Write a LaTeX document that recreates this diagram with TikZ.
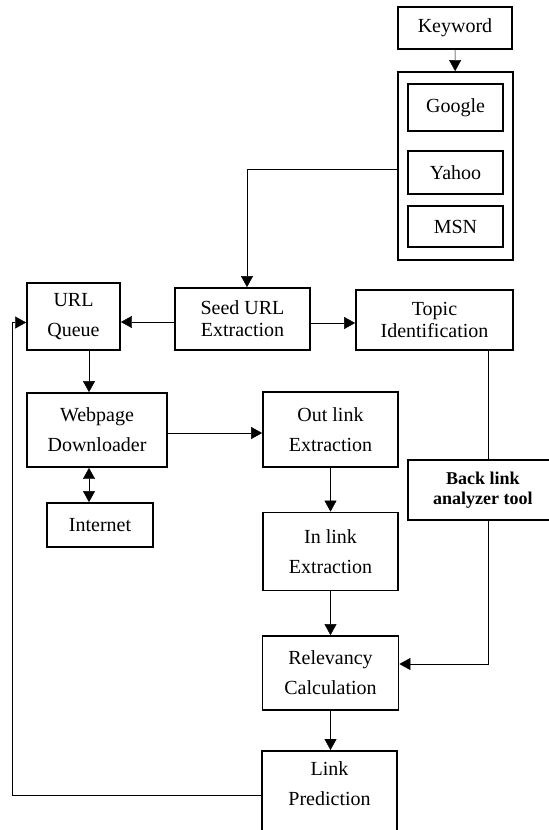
\documentclass[tikz,border=0pt]{standalone}
\usepackage{fontspec}
\setmainfont{Liberation Serif}
\usepackage{tikz}
\usetikzlibrary{arrows.meta}
\pgfdeclarelayer{bg}
\pgfsetlayers{bg,main}
\tikzset{
    every node/.style={rectangle, draw, line width=1.8bp, inner sep=0mm, align=center, font=\fontsize{20bp}{30bp}\selectfont}
}
\tikzset{tight/.style={font=\fontsize{20bp}{22bp}\selectfont}}
\tikzset{arr/.style={-{Triangle[length=11bp, width=12bp]}}}

\begin{document}
\begin{tikzpicture}[x=1bp, y=-1bp, line width=1.8bp]
        \useasboundingbox (0, 0) rectangle (549, 830);
        \node (kw) [minimum width=114bp, minimum height=42bp] at (455, 28) {Keyword};
        \node (se) [minimum width=115bp, minimum height=188bp] at (455.5, 166) {};
        \node (ggl) [minimum width=95bp, minimum height=47bp] at (455.5, 107.5) {Google};
        \node (yah) [minimum width=95bp, minimum height=43bp] at (455.5, 172.5) {Yahoo};
        \node (msn) [minimum width=95bp, minimum height=41bp] at (455.5, 226.5) {MSN};
        \node (urlq) [minimum width=93bp, minimum height=67bp] at (73.5, 316.5) {URL\\Queue};
        \node (seed) [tight, minimum width=135bp, minimum height=62bp] at (242.5, 319) {Seed URL\\Extraction};
        \node (topic) [tight, minimum width=157bp, minimum height=60bp] at (434.5, 320) {Topic\\Identification};
        \node (web) [minimum width=140bp, minimum height=74bp] at (97, 430) {Webpage\\Downloader};
        \node (out) [minimum width=135bp, minimum height=75bp] at (330.5, 429.5) {Out link\\Extraction};
        \node (inet) [minimum width=106bp, minimum height=44bp] at (100, 525) {Internet};
        \node (back) [font=\fontsize{18bp}{20bp}\selectfont\bfseries, minimum width=150bp, minimum height=60bp, anchor=west] at (407, 490) {Back link\\analyzer tool};
        \node (inl) [minimum width=135bp, minimum height=78bp] at (330.5, 551.5) {In link\\Extraction};
        \node (rel) [minimum width=136bp, minimum height=74bp] at (330.5, 673) {Relevancy\\Calculation};
        \node (pred) [minimum width=135bp, minimum height=105bp, anchor=north] at (329.5, 750) {Link\\Prediction\\\strut};
        \coordinate (fb) at (12, 795);
        \begin{pgfonlayer}{bg}
                \draw (kw) edge [arr] (se);
                \draw [arr] ([yshift=-3bp]se.west) -| ([xshift=4.5bp]seed.north);
                \draw [arr] ([yshift=-3bp]seed.west) -- ([yshift=-3bp]seed.west -| urlq.east);
                \draw [arr] ([yshift=-4bp]seed.east) -- ([yshift=-4bp]seed.east -| topic.west);
                \draw [arr] ([xshift=15.5bp]urlq.south) -- ([xshift=15.5bp]urlq.south |- web.north);
                \draw [arr] ([yshift=-3bp]web.east) -- ([yshift=-3bp]web.east -| out.west);
                \draw [{Triangle[length=11bp, width=12bp]}-{Triangle[length=11bp, width=12bp]}] ([xshift=-11bp]inet.north) -- ([xshift=-11bp]inet.north |- web.south);
                \draw ([xshift=5bp]back.north) -- ([xshift=5bp]back.north |- topic.south);
                \draw [arr] ([xshift=5bp]back.south) |- ([yshift=9bp]rel.east);
                \draw (out) edge [arr] (inl);
                \draw (inl) edge [arr] (rel);
                \draw [arr] (rel.south) -- (rel.south |- pred.north);
                \draw [arr] (fb -| pred.west) -- (fb) |- ([yshift=-6bp]urlq.west);
        \end{pgfonlayer}
\end{tikzpicture}
\end{document}
